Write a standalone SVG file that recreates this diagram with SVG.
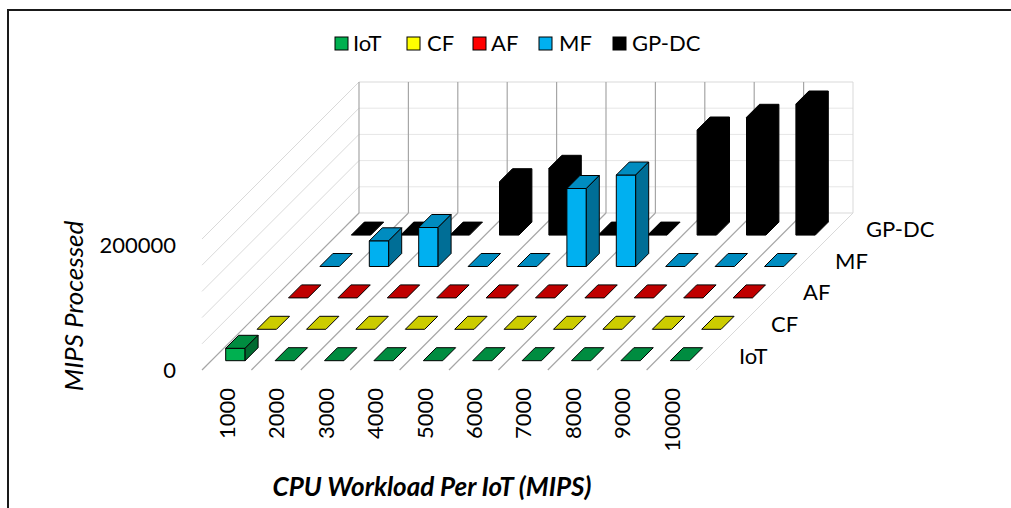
<svg xmlns="http://www.w3.org/2000/svg" xmlns:xlink="http://www.w3.org/1999/xlink" width="1011" height="508" viewBox="0 0 1011 508">
<style>
text{font-family:Lato,"Liberation Sans",sans-serif;font-size:22px;fill:#000}
.title{font-size:26px;font-style:italic}
.lt{stroke:#d9d9d9;stroke-width:1;fill:none}
.lg{stroke:#e6e6e6;stroke-width:1;fill:none}
.dk{stroke:#a6a6a6;stroke-width:1.2;fill:none}
.b{stroke:#000;stroke-width:1;stroke-linejoin:round}
.iotF{fill:#00b050}.iotT{fill:#008c40}.iotS{fill:#006b30}
.cfT{fill:#cccc00}.afT{fill:#c00000}
.mfF{fill:#00b0f0}.mfT{fill:#008cc0}.mfS{fill:#006e96}
.k{fill:#000}
</style>
<defs>
<path id="flat" d="M0,0 h19.4 l13,-13 h-19.4 z"/>
</defs>
<rect x="8" y="10" width="1012" height="510" fill="#fff" stroke="#1a1a1a" stroke-width="2"/>

<g id="walls">
<line class="lt" x1="359" y1="82" x2="853" y2="82"/>
<line class="lg" x1="359" y1="108.2" x2="853" y2="108.2"/>
<line class="lg" x1="359" y1="134.4" x2="853" y2="134.4"/>
<line class="lg" x1="359" y1="160.6" x2="853" y2="160.6"/>
<line class="lg" x1="359" y1="186.8" x2="853" y2="186.8"/>
<line class="lt" x1="359" y1="213" x2="853" y2="213"/>
<line class="lt" x1="202" y1="343.8" x2="359" y2="186.8"/>
<line class="lt" x1="202" y1="317.6" x2="359" y2="160.6"/>
<line class="lt" x1="202" y1="291.4" x2="359" y2="134.4"/>
<line class="lt" x1="202" y1="265.2" x2="359" y2="108.2"/>
<line class="lt" x1="202" y1="239" x2="359" y2="82"/>
<line class="dk" x1="359" y1="82" x2="359" y2="213"/>
<line class="dk" x1="408.4" y1="82" x2="408.4" y2="213"/>
<line class="dk" x1="457.8" y1="82" x2="457.8" y2="213"/>
<line class="dk" x1="507.2" y1="82" x2="507.2" y2="213"/>
<line class="dk" x1="556.6" y1="82" x2="556.6" y2="213"/>
<line class="dk" x1="606" y1="82" x2="606" y2="213"/>
<line class="dk" x1="655.4" y1="82" x2="655.4" y2="213"/>
<line class="dk" x1="704.8" y1="82" x2="704.8" y2="213"/>
<line class="dk" x1="754.2" y1="82" x2="754.2" y2="213"/>
<line class="dk" x1="803.6" y1="82" x2="803.6" y2="213"/>
<line class="lt" x1="853" y1="82" x2="853" y2="213"/>
</g>
<g id="floor">
<line class="dk" x1="202" y1="370" x2="359" y2="213"/>
<line class="dk" x1="251.4" y1="370" x2="408.4" y2="213"/>
<line class="dk" x1="300.8" y1="370" x2="457.8" y2="213"/>
<line class="dk" x1="350.2" y1="370" x2="507.2" y2="213"/>
<line class="dk" x1="399.6" y1="370" x2="556.6" y2="213"/>
<line class="dk" x1="449" y1="370" x2="606" y2="213"/>
<line class="dk" x1="498.4" y1="370" x2="655.4" y2="213"/>
<line class="dk" x1="547.8" y1="370" x2="704.8" y2="213"/>
<line class="dk" x1="597.2" y1="370" x2="754.2" y2="213"/>
<line class="dk" x1="646.6" y1="370" x2="803.6" y2="213"/>
<line class="lt" x1="696" y1="370" x2="853" y2="213"/>
</g>

<g id="series-gpdc">
<use href="#flat" class="k b" x="351.3" y="235.1"/>
<use href="#flat" class="k b" x="400.7" y="235.1"/>
<use href="#flat" class="k b" x="450.1" y="235.1"/>
<path class="k b" d="M499.5,235.1 v-53.4 l13,-13 h19.4 v53.4 l-13,13 z"/>
<path class="k b" d="M548.9,235.1 v-66.8 l13,-13 h19.4 v66.8 l-13,13 z"/>
<use href="#flat" class="k b" x="598.3" y="235.1"/>
<use href="#flat" class="k b" x="647.7" y="235.1"/>
<path class="k b" d="M697.1,235.1 v-105.1 l13,-13 h19.4 v105.1 l-13,13 z"/>
<path class="k b" d="M746.5,235.1 v-117.8 l13,-13 h19.4 v117.8 l-13,13 z"/>
<path class="k b" d="M795.9,235.1 v-131.1 l13,-13 h19.4 v131.1 l-13,13 z"/>
</g>

<g id="series-mf">
<use href="#flat" class="mfT b" x="319.9" y="266.5"/>
<g id="mf-2000">
<rect class="mfF b" x="369.3" y="240.8" width="19.4" height="25.7"/>
<path class="mfT b" d="M369.3,240.8 h19.4 l13,-13 h-19.4 z"/>
<path class="mfS b" d="M388.7,266.5 l13,-13 v-25.7 l-13,13 z"/>
</g>
<g id="mf-3000">
<rect class="mfF b" x="418.7" y="227.5" width="19.4" height="39"/>
<path class="mfT b" d="M418.7,227.5 h19.4 l13,-13 h-19.4 z"/>
<path class="mfS b" d="M438.1,266.5 l13,-13 v-39 l-13,13 z"/>
</g>
<use href="#flat" class="mfT b" x="468.1" y="266.5"/>
<use href="#flat" class="mfT b" x="517.5" y="266.5"/>
<g id="mf-6000">
<rect class="mfF b" x="566.9" y="188.5" width="19.4" height="78"/>
<path class="mfT b" d="M566.9,188.5 h19.4 l13,-13 h-19.4 z"/>
<path class="mfS b" d="M586.3,266.5 l13,-13 v-78 l-13,13 z"/>
</g>
<g id="mf-7000">
<rect class="mfF b" x="616.3" y="175" width="19.4" height="91.5"/>
<path class="mfT b" d="M616.3,175 h19.4 l13,-13 h-19.4 z"/>
<path class="mfS b" d="M635.7,266.5 l13,-13 v-91.5 l-13,13 z"/>
</g>
<use href="#flat" class="mfT b" x="665.7" y="266.5"/>
<use href="#flat" class="mfT b" x="715.1" y="266.5"/>
<use href="#flat" class="mfT b" x="764.5" y="266.5"/>
</g>

<g id="series-af">
<use href="#flat" class="afT b" x="288.5" y="297.9"/>
<use href="#flat" class="afT b" x="337.9" y="297.9"/>
<use href="#flat" class="afT b" x="387.3" y="297.9"/>
<use href="#flat" class="afT b" x="436.7" y="297.9"/>
<use href="#flat" class="afT b" x="486.1" y="297.9"/>
<use href="#flat" class="afT b" x="535.5" y="297.9"/>
<use href="#flat" class="afT b" x="584.9" y="297.9"/>
<use href="#flat" class="afT b" x="634.3" y="297.9"/>
<use href="#flat" class="afT b" x="683.7" y="297.9"/>
<use href="#flat" class="afT b" x="733.1" y="297.9"/>
</g>

<g id="series-cf">
<use href="#flat" class="cfT b" x="257.1" y="329.3"/>
<use href="#flat" class="cfT b" x="306.5" y="329.3"/>
<use href="#flat" class="cfT b" x="355.9" y="329.3"/>
<use href="#flat" class="cfT b" x="405.3" y="329.3"/>
<use href="#flat" class="cfT b" x="454.7" y="329.3"/>
<use href="#flat" class="cfT b" x="504.1" y="329.3"/>
<use href="#flat" class="cfT b" x="553.5" y="329.3"/>
<use href="#flat" class="cfT b" x="602.9" y="329.3"/>
<use href="#flat" class="cfT b" x="652.3" y="329.3"/>
<use href="#flat" class="cfT b" x="701.7" y="329.3"/>
</g>

<g id="series-iot">
<g id="iot-1000">
<rect class="iotF b" x="225.7" y="348.3" width="19.4" height="12.4"/>
<path class="iotT b" d="M225.7,348.3 h19.4 l13,-13 h-19.4 z"/>
<path class="iotS b" d="M245.1,360.7 l13,-13 v-12.4 l-13,13 z"/>
</g>
<use href="#flat" class="iotT b" x="275.1" y="360.7"/>
<use href="#flat" class="iotT b" x="324.5" y="360.7"/>
<use href="#flat" class="iotT b" x="373.9" y="360.7"/>
<use href="#flat" class="iotT b" x="423.3" y="360.7"/>
<use href="#flat" class="iotT b" x="472.7" y="360.7"/>
<use href="#flat" class="iotT b" x="522.1" y="360.7"/>
<use href="#flat" class="iotT b" x="571.5" y="360.7"/>
<use href="#flat" class="iotT b" x="620.9" y="360.7"/>
<use href="#flat" class="iotT b" x="670.3" y="360.7"/>
</g>

<g id="series-labels">
<text x="739" y="364">IoT</text>
<text x="771" y="332">CF</text>
<text x="803" y="300">AF</text>
<text x="835" y="268.5">MF</text>
<text x="866" y="237">GP-DC</text>
</g>

<g id="y-axis">
<text x="176" y="253" text-anchor="end">200000</text>
<text x="176" y="378" text-anchor="end">0</text>
<text class="title" transform="translate(83,306) rotate(-90)" text-anchor="middle">MIPS Processed</text>
</g>

<g id="x-axis" text-anchor="end">
<text transform="translate(235,388) rotate(-90)">1000</text>
<text transform="translate(284.4,388) rotate(-90)">2000</text>
<text transform="translate(333.8,388) rotate(-90)">3000</text>
<text transform="translate(383.2,388) rotate(-90)">4000</text>
<text transform="translate(432.6,388) rotate(-90)">5000</text>
<text transform="translate(482,388) rotate(-90)">6000</text>
<text transform="translate(531.4,388) rotate(-90)">7000</text>
<text transform="translate(580.8,388) rotate(-90)">8000</text>
<text transform="translate(630.2,388) rotate(-90)">9000</text>
<text transform="translate(679.6,388) rotate(-90)">10000</text>
</g>
<text class="title" x="432" y="496" text-anchor="middle" font-weight="bold">CPU Workload Per IoT (MIPS)</text>

<g id="legend">
<rect x="335" y="37" width="13" height="13" fill="#00b050" stroke="#000"/>
<text x="353" y="51">IoT</text>
<rect x="407" y="37" width="13" height="13" fill="#ffff00" stroke="#000"/>
<text x="427" y="51">CF</text>
<rect x="473" y="37" width="13" height="13" fill="#ff0000" stroke="#000"/>
<text x="491" y="51">AF</text>
<rect x="539" y="37" width="13" height="13" fill="#00b0f0" stroke="#000"/>
<text x="559" y="51">MF</text>
<rect x="613" y="37" width="13" height="13" fill="#000" stroke="#000"/>
<text x="632" y="51">GP-DC</text>
</g>
</svg>
